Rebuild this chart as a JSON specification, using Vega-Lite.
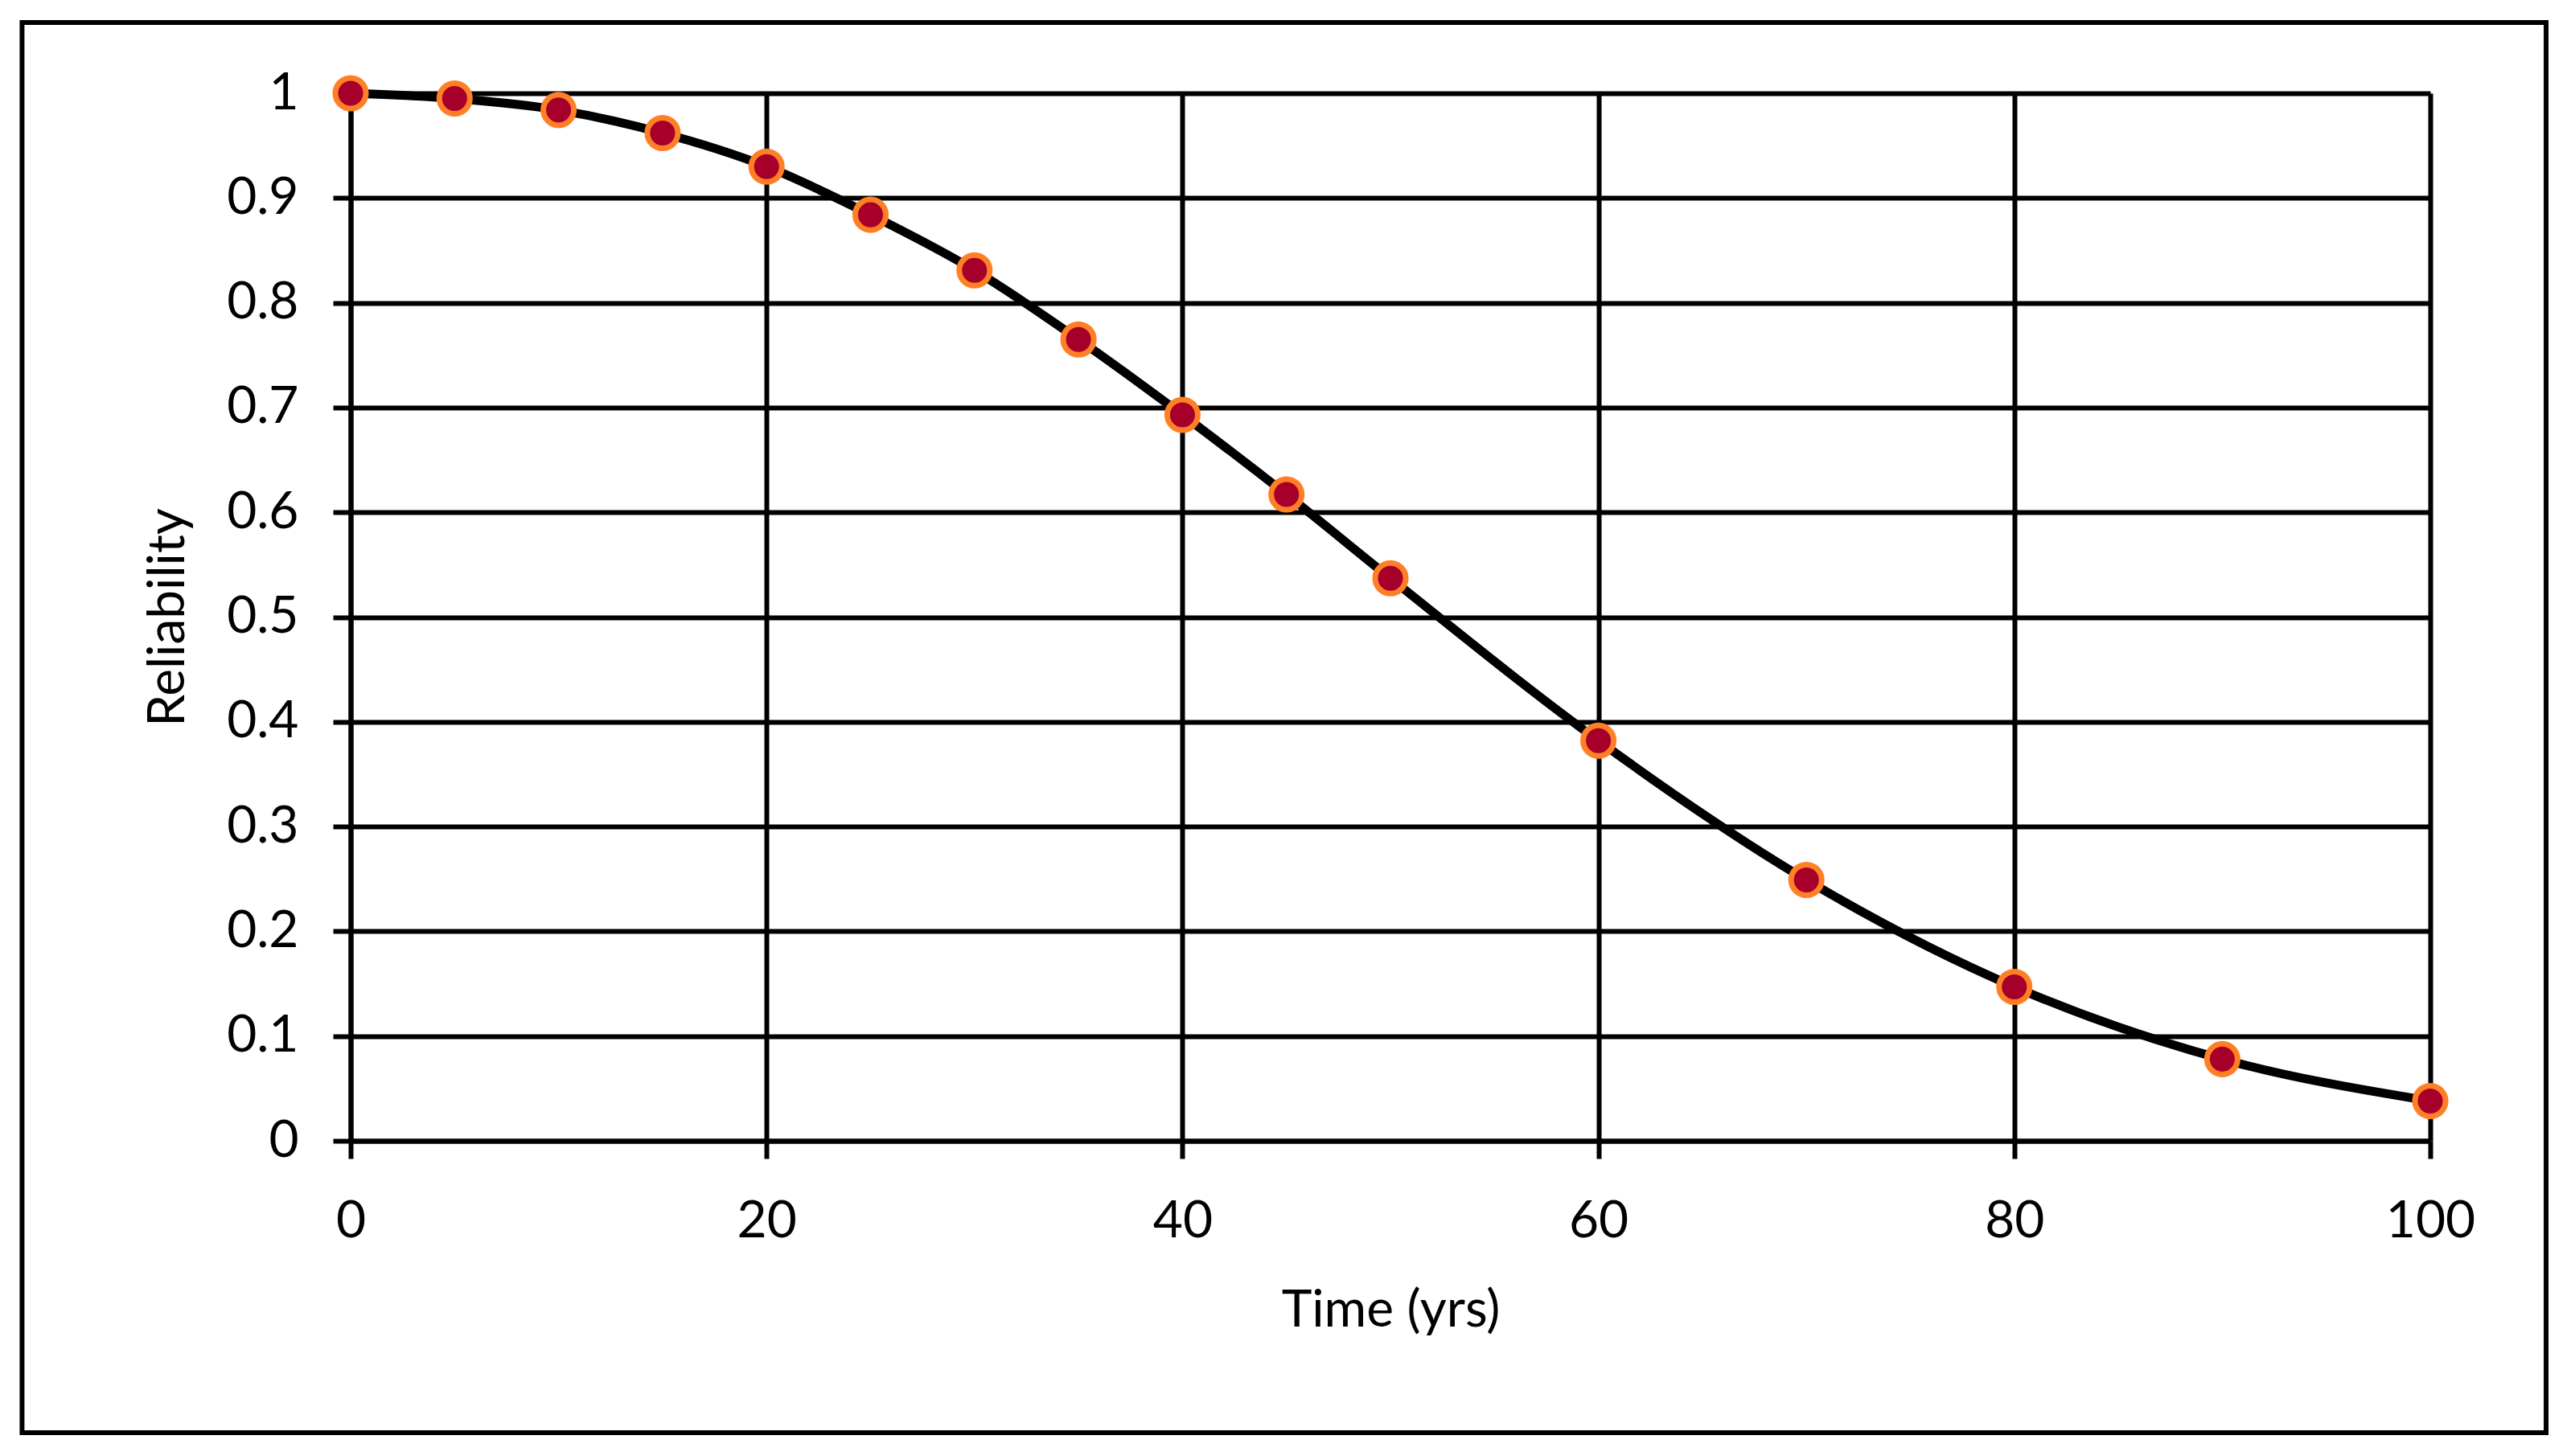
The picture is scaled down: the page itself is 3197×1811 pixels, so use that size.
{
  "$schema": "https://vega.github.io/schema/vega-lite/v6.json",
  "width": 2586,
  "height": 1303,
  "autosize": {"type": "none"},
  "padding": {"left": 436, "top": 116, "right": 175, "bottom": 392},
  "background": "white",
  "config": {
    "view": {"stroke": null},
    "font": "Lato",
    "axis": {
      "grid": true,
      "gridColor": "black",
      "gridWidth": 6,
      "gridOpacity": 1,
      "domainColor": "black",
      "domainWidth": 6,
      "tickColor": "black",
      "tickWidth": 6,
      "tickSize": 22,
      "labelFlush": false,
      "labelFont": "Lato",
      "labelFontSize": 64,
      "labelColor": "black",
      "titleFont": "Lato",
      "titleFontSize": 64,
      "titleFontWeight": "normal",
      "titleColor": "black"
    }
  },
  "data": {
    "values": [
      {"t": 0, "r": 1.0},
      {"t": 5, "r": 0.995},
      {"t": 10, "r": 0.984},
      {"t": 15, "r": 0.962},
      {"t": 20, "r": 0.930},
      {"t": 25, "r": 0.884},
      {"t": 30, "r": 0.831},
      {"t": 35, "r": 0.765},
      {"t": 40, "r": 0.693},
      {"t": 45, "r": 0.617},
      {"t": 50, "r": 0.537},
      {"t": 60, "r": 0.382},
      {"t": 70, "r": 0.249},
      {"t": 80, "r": 0.147},
      {"t": 90, "r": 0.078},
      {"t": 100, "r": 0.038}
    ]
  },
  "layer": [
    {
      "data": {"values": [{}]},
      "mark": {"type": "rect", "fill": null, "stroke": "black", "strokeWidth": 6},
      "encoding": {
        "x": {"datum": -15.8, "type": "quantitative", "scale": {"domain": [0, 100]}},
        "x2": {"datum": 105.57},
        "y": {"datum": 1.0675, "type": "quantitative", "scale": {"domain": [0, 1]}},
        "y2": {"datum": -0.2786}
      }
    },
    {
      "mark": {"type": "line", "interpolate": "monotone", "color": "black", "strokeWidth": 11},
      "encoding": {
        "x": {
          "field": "t", "type": "quantitative",
          "scale": {"domain": [0, 100]},
          "axis": {"values": [0, 20, 40, 60, 80, 100], "title": "Time (yrs)", "labelPadding": 46, "titlePadding": 47}
        },
        "y": {
          "field": "r", "type": "quantitative",
          "scale": {"domain": [0, 1]},
          "axis": {"values": [0, 0.1, 0.2, 0.3, 0.4, 0.5, 0.6, 0.7, 0.8, 0.9, 1], "format": "~g", "title": "Reliability", "labelPadding": 43, "titlePadding": 40}
        }
      }
    },
    {
      "mark": {"type": "point", "shape": "circle", "filled": true, "fill": "#A6002A", "stroke": "#FF7F27", "strokeWidth": 7, "size": 1450, "opacity": 1},
      "encoding": {
        "x": {"field": "t", "type": "quantitative"},
        "y": {"field": "r", "type": "quantitative"}
      }
    }
  ]
}
